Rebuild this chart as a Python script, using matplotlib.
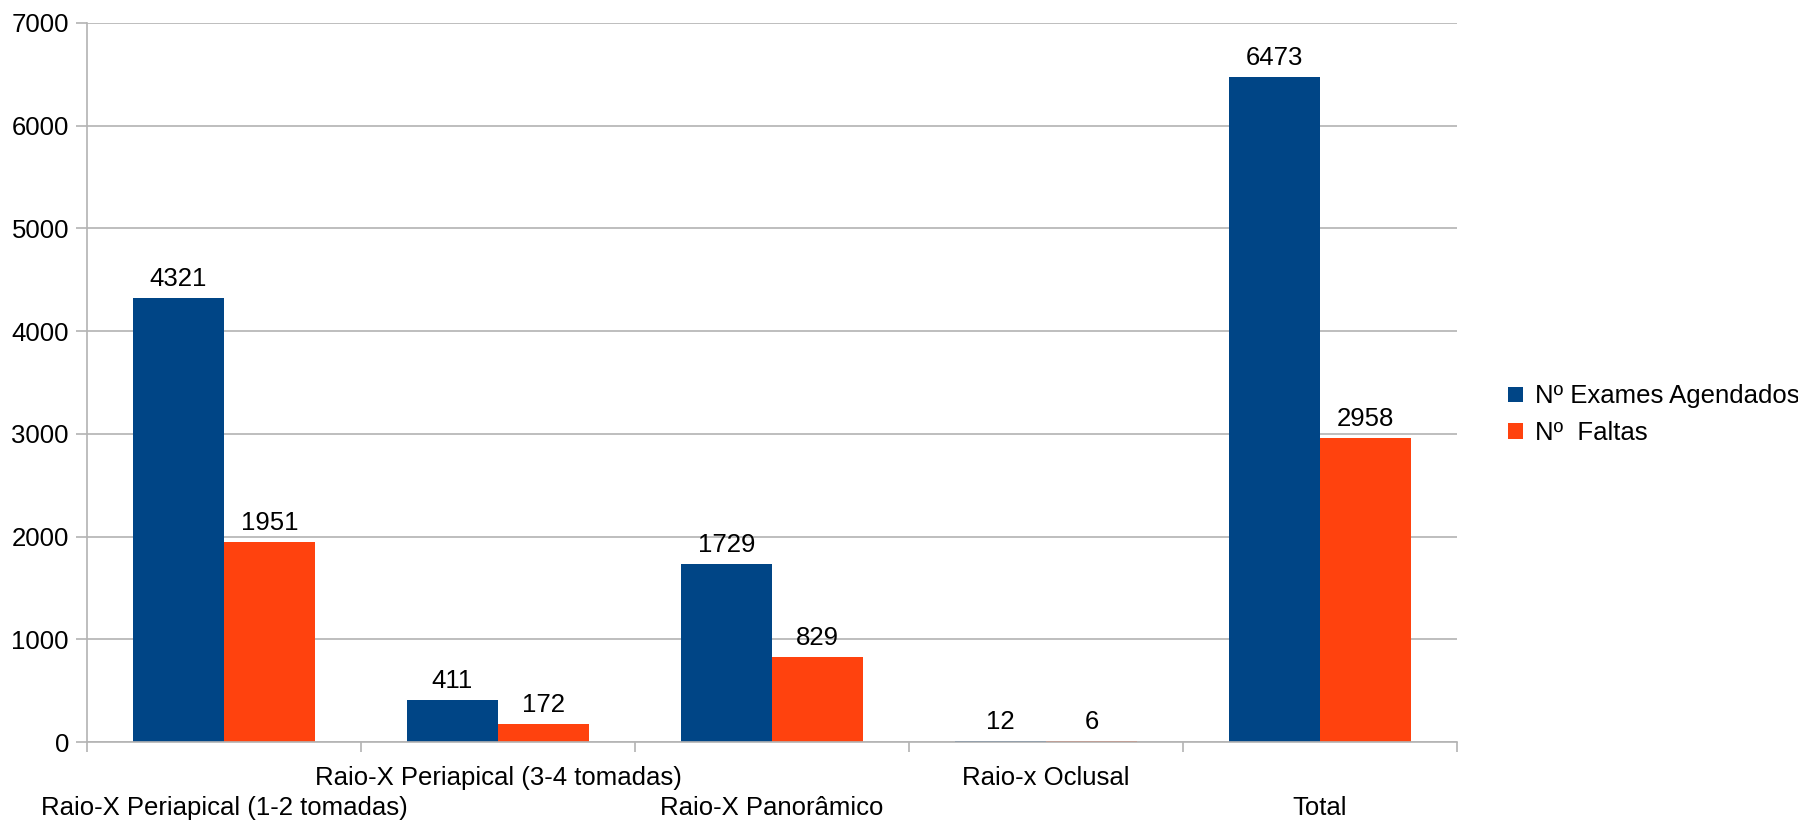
import matplotlib.pyplot as plt
import numpy as np

categorias = ['Raio-X Periapical (1-2 tomadas)', 'Raio-X Periapical (3-4 tomadas)',
              'Raio-X Panorâmico', 'Raio-x Oclusal', 'Total']
agendados = [4321, 411, 1729, 12, 6473]
faltas = [1951, 172, 829, 6, 2958]
serie_nomes = ['Nº Exames Agendados', 'Nº  Faltas']
yticks = [0, 1000, 2000, 3000, 4000, 5000, 6000, 7000]

azul = '#004586'
laranja = '#ff420e'
cinza = '#b3b3b3'

plt.rcParams['font.family'] = ['Liberation Sans', 'DejaVu Sans']
plt.rcParams['font.size'] = 18.5

fig = plt.figure(figsize=(17.98, 8.21), dpi=100)
ax = fig.add_axes([87 / 1798, 79 / 821, 1370 / 1798, 719 / 821])

x = np.arange(len(categorias))
w = 1 / 3
b1 = ax.bar(x - w / 2, agendados, w, color=azul, label=serie_nomes[0])
b2 = ax.bar(x + w / 2, faltas, w, color=laranja, label=serie_nomes[1])

for bars, vals in ((b1, agendados), (b2, faltas)):
    for r, v in zip(bars, vals):
        ax.annotate(str(v), (r.get_x() + r.get_width() / 2, v), xytext=(0, 5),
                    textcoords='offset points', ha='center', va='bottom', color='black')

ax.set_xlim(-0.5, len(categorias) - 0.5)
ax.set_ylim(0, 7000)
ax.set_yticks(yticks)
ax.yaxis.grid(True, color=cinza, lw=1.2)
ax.set_axisbelow(True)

# rotulos escalonados em duas linhas
ax.set_xticks(x)
ax.set_xticklabels(categorias)
ax.tick_params(axis='x', which='major', length=0)
for i, t in enumerate(ax.xaxis.get_major_ticks()):
    t.set_pad(17 if i % 2 else 39)
ax.set_xticks(np.arange(-0.5, len(categorias)), minor=True)
ax.tick_params(axis='x', which='minor', length=7.5, color=cinza, width=1.2)
ax.tick_params(axis='y', length=8, color=cinza, width=1.2, pad=5)

for s in ['top', 'right']:
    ax.spines[s].set_visible(False)
for s in ['left', 'bottom']:
    ax.spines[s].set_color(cinza)
    ax.spines[s].set_linewidth(1.2)

leg = ax.legend(loc='center left', bbox_to_anchor=(1.03, 0.455), frameon=False,
                handlelength=0.55, handleheight=0.55, handletextpad=0.5, labelspacing=0.5,
                borderaxespad=0)

fig.savefig('out.png', dpi=100)
